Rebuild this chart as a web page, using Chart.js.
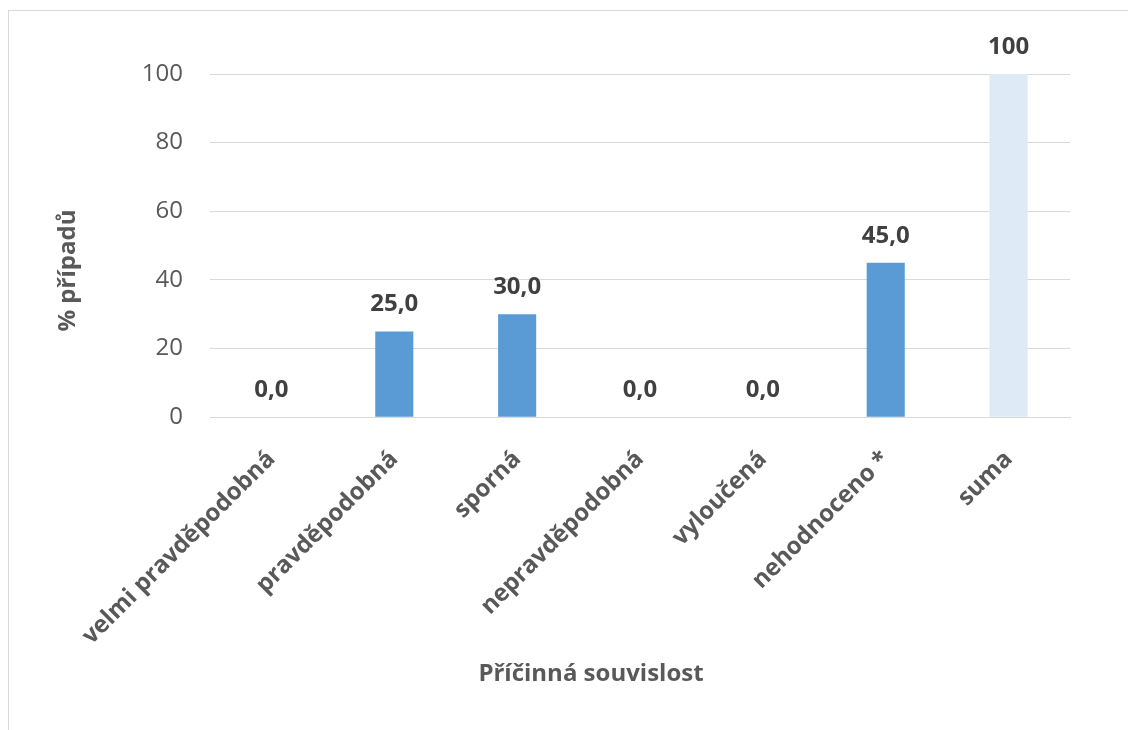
<!DOCTYPE html>
<html>
<head>
<meta charset="utf-8">
<script src="https://cdn.jsdelivr.net/npm/chart.js@4/dist/chart.umd.min.js"></script>
<style>
  html, body { margin: 0; padding: 0; background: #fff; overflow: hidden; }
  .frame {
    position: absolute; left: 8px; top: 10px; right: -10px; bottom: -10px;
    border-left: 1px solid #d9d9d9; border-top: 1px solid #d9d9d9;
  }
  .wrap { position: absolute; left: 0; top: 0; width: 1128px; height: 730px; }
</style>
</head>
<body>
<div class="frame"></div>
<div class="wrap"><canvas id="chart"></canvas></div>
<script>
// categories (x axis) and share of cases in %
const categories = ['velmi pravděpodobná', 'pravděpodobná', 'sporná', 'nepravděpodobná', 'vyloučená', 'nehodnoceno *', 'suma'];
const percentages = [0, 25, 30, 0, 0, 45, 100];
// decimals shown in the value label of each bar
const labelDecimals = [1, 1, 1, 1, 1, 1, 0];
const barColors = ['#5b9bd5', '#5b9bd5', '#5b9bd5', '#5b9bd5', '#5b9bd5', '#5b9bd5', '#deebf7'];
const yTicks = [0, 20, 40, 60, 80, 100];

const FONT = "'Open Sans', sans-serif";

// draws "25,0" style value above every bar (no datalabels plugin available)
const valueLabels = {
    id: 'valueLabels',
    afterDatasetsDraw(chart) {
        const { ctx } = chart;
        const meta = chart.getDatasetMeta(0);
        ctx.save();
        ctx.font = `bold 24px ${FONT}`;
        ctx.fillStyle = '#404040';
        ctx.textAlign = 'center';
        ctx.textBaseline = 'alphabetic';
        meta.data.forEach((bar, i) => {
            const text = percentages[i].toFixed(labelDecimals[i]).replace('.', ',');
            ctx.fillText(text, bar.x, bar.y - 20);
        });
        ctx.restore();
    },
};

new Chart(document.getElementById('chart'), {
    type: 'bar',
    data: {
        labels: categories,
        datasets: [
            {
                data: percentages,
                backgroundColor: barColors,
                borderWidth: 0,
                categoryPercentage: 1,
                barPercentage: 0.31,
            },
        ],
    },
    options: {
        responsive: true,
        maintainAspectRatio: false,
        animation: false,
        layout: { padding: { left: 54, right: 0, top: 74, bottom: 31 } },
        plugins: {
            legend: { display: false },
            tooltip: { enabled: false },
            title: {
                display: true,
                position: 'bottom',
                text: 'Příčinná souvislost',
                color: '#595959',
                font: { family: FONT, size: 24, weight: 'bold' },
                padding: { top: 10, bottom: 10 },
            },
        },
        scales: {
            x: {
                grid: { display: false },
                border: { display: true, color: '#d9d9d9' },
                ticks: {
                    color: '#595959',
                    font: { family: FONT, size: 24, weight: 'bold' },
                    minRotation: 45,
                    maxRotation: 45,
                    padding: 20,
                },
                afterFit: (scale) => { scale.height = 233; },
            },
            y: {
                min: 0,
                max: 100,
                afterBuildTicks: (scale) => { scale.ticks = yTicks.map((v) => ({ value: v })); },
                grid: { color: '#d9d9d9', drawTicks: false },
                border: { display: false },
                ticks: {
                    color: '#595959',
                    font: { family: FONT, size: 24 },
                    padding: 27,
                },
                title: {
                    display: true,
                    // trailing spaces push the title a bit below the axis centre, as in the original
                    text: '% případů        ',
                    color: '#595959',
                    font: { family: FONT, size: 24, weight: 'bold' },
                    padding: { top: 0, bottom: 0 },
                },
                afterFit: (scale) => { scale.width = 156; },
            },
            // empty right axis only reserves the gap right of the plot
            y2: {
                position: 'right',
                display: true,
                grid: { display: false },
                border: { display: false },
                ticks: { display: false },
                afterFit: (scale) => { scale.width = 58; },
            },
        },
    },
    plugins: [valueLabels],
});
</script>
</body>
</html>
